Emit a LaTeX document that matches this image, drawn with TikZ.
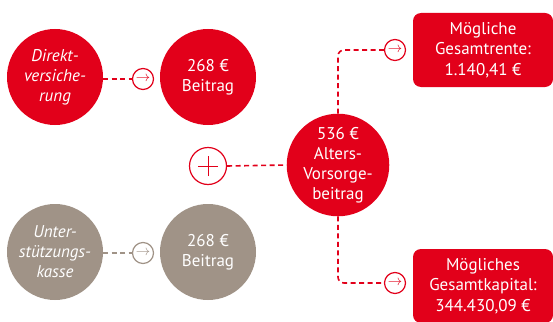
\documentclass[tikz,border=0pt]{standalone}
\usepackage{fontspec}
\setmainfont{PT Sans}
\definecolor{ered}{HTML}{E2001A}
\definecolor{etaupe}{HTML}{A09387}
\begin{document}
\begin{tikzpicture}[x=1pt,y=-1pt,bubble/.style={shape=circle,minimum size=96pt,inner sep=0pt,align=center,text=white,font=\fontsize{17}{20}\selectfont},bubbleR/.style={bubble,fill=ered},bubbleG/.style={bubble,fill=etaupe},arr/.style={shape=circle,draw=#1,fill=white,line width=1.2pt,minimum size=21pt,inner sep=0pt,text=#1,font=\fontsize{15}{15}\selectfont},link/.style={draw=#1,dash pattern=on 5pt off 3.5pt,line width=1.6pt},result/.style={shape=rectangle,rounded corners=8pt,fill=ered,text=white,minimum width=140pt,minimum height=74pt,align=center,font=\fontsize{17}{20.5}\selectfont}]
\def\xa{55};
\def\xb{143};
\def\xc{208};
\def\ya{77};
\def\yb{252};

\useasboundingbox (0,0) rectangle (553,321);

\node[bubbleR] (DV) at (\xa,\ya) {\itshape Direkt-\\\itshape versiche-\\\itshape rung};
\node[arr=ered] (DVa) at (\xb,\ya+2) {$\rightarrow$};
\node[bubbleR] (DVb) at (\xc,\ya) {268 €\\Beitrag};
\draw[link=ered] (DV.east|-DVa) -- (DVa.west);

\node[bubbleG] (UK) at (\xa,\yb) {\itshape Unter-\\\itshape stützungs-\\\itshape kasse};
\node[arr=etaupe] (UKa) at (\xb,\yb+1) {$\rightarrow$};
\node[bubbleG] (UKb) at (\xc,\yb) {268 €\\Beitrag};
\draw[link=etaupe] (UK.east|-UKa) -- (UKa.west);

\node[shape=circle,draw=ered,fill=white,line width=1.2pt,minimum size=37pt] (P) at (\xc,166) {};
\draw[ered,line width=1pt] ([xshift=-10pt]P.center) -- ([xshift=10pt]P.center);
\draw[ered,line width=1pt] ([yshift=-10pt]P.center) -- ([yshift=10pt]P.center);

\node[bubbleR] (M) at (338,165) {536 €\\Alters-\\Vorsorge-\\beitrag};
\draw[link=ered] (P.east) -- (M.west);

\node[arr=ered] (Ra) at (395,50) {$\rightarrow$};
\node[result] (R) at (483,50) {Mögliche\\Gesamtrente:\\1.140,41 €};
\draw[link=ered,rounded corners=6pt] (M.north) |- (Ra.west);

\node[arr=ered] (Ka) at (395,283) {$\rightarrow$};
\node[result] (K) at (483,286) {Mögliches\\Gesamtkapital:\\344.430,09 €};
\draw[link=ered,rounded corners=6pt] (M.south) |- (Ka.west);
\end{tikzpicture}
\end{document}
